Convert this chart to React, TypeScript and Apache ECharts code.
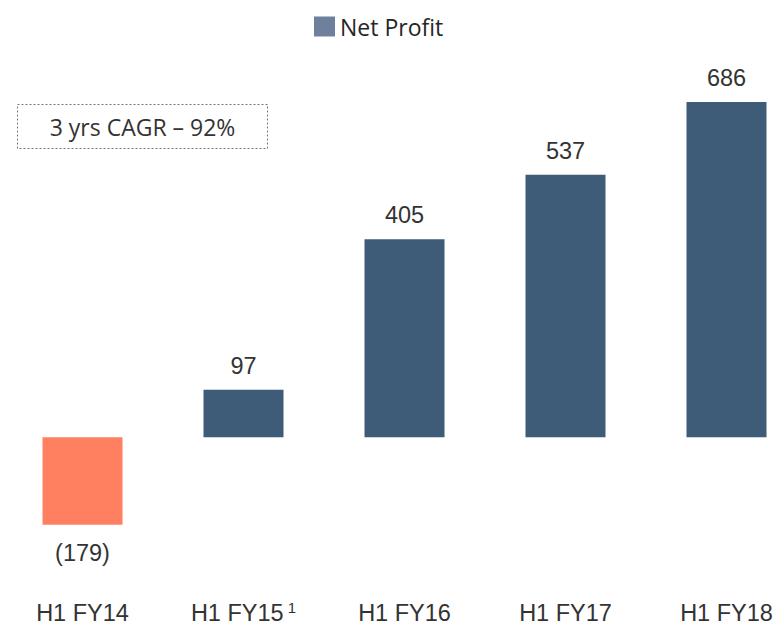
import React, { useEffect, useRef } from "react";
import * as echarts from "echarts";

const categories = ["H1 FY14", "H1 FY15", "H1 FY16", "H1 FY17", "H1 FY18"];
const netProfit = [-179, 97, 405, 537, 686];
const footnoteCategory = "H1 FY15";
const footnoteMark = "1";
const cagrText = "3 yrs CAGR – 92%";

const BAR_COLOR = "#3E5C77";
const NEG_COLOR = "#FF8060";
const LEGEND_COLOR = "#6F809C";

export default function App() {
  const ref = useRef<HTMLDivElement>(null);
  useEffect(() => {
    if (!ref.current) return;
    const chart = echarts.init(ref.current, null, { renderer: "svg" });
    chart.setOption({
      animation: false,
      legend: {
        top: 10,
        left: 309,
        icon: "rect",
        itemWidth: 21,
        itemHeight: 20,
        itemGap: 11,
        textStyle: { fontFamily: "Open Sans", fontSize: 23, color: "#262626" },
        data: [{ name: "Net Profit", itemStyle: { color: LEGEND_COLOR } }],
      },
      grid: { left: 2, top: 95.1, width: 805, height: 442.2 },
      xAxis: {
        type: "category",
        data: categories,
        axisLine: { show: false, onZero: false },
        axisTick: { show: false },
        axisLabel: {
          interval: 0,
          margin: 61,
          color: "#333",
          fontFamily: "Liberation Sans",
          fontSize: 23.5,
          formatter: (v: string) =>
            v === footnoteCategory ? `{m|${v}}{sup| ${footnoteMark}}` : `{m|${v}}`,
          rich: {
            m: {
              fontSize: 23.5,
              fontFamily: "Liberation Sans",
              color: "#333",
              height: 34,
              verticalAlign: "bottom",
            },
            sup: {
              fontSize: 15,
              fontFamily: "Liberation Sans",
              color: "#333",
              verticalAlign: "bottom",
              padding: [0, 0, 15, 0],
            },
          },
        },
      },
      yAxis: {
        type: "value",
        min: -200,
        max: 700,
        show: false,
        splitLine: { show: false },
      },
      series: [
        {
          name: "Net Profit",
          type: "bar",
          barWidth: 80,
          data: netProfit.map((v) => ({
            value: v,
            itemStyle: { color: v < 0 ? NEG_COLOR : BAR_COLOR },
            label: { position: v < 0 ? "bottom" : "top", distance: v < 0 ? 16 : 12 },
          })),
          label: {
            show: true,
            color: "#333",
            fontFamily: "Liberation Sans",
            fontSize: 23.5,
            formatter: (p: any) => (p.value < 0 ? `(${Math.abs(p.value)})` : `${p.value}`),
          },
        },
      ],
      graphic: [
        {
          type: "group",
          left: 17,
          top: 104,
          children: [
            {
              type: "rect",
              shape: { x: 0, y: 0, width: 250, height: 44 },
              style: { fill: "#fff", stroke: "#777", lineWidth: 1, lineDash: [2, 2] },
            },
            {
              type: "text",
              x: 125,
              y: 22,
              style: {
                text: cagrText,
                fontFamily: "Open Sans",
                fontSize: 23,
                fill: "#333",
                align: "center",
                verticalAlign: "middle",
              },
            },
          ],
        },
      ],
    });
    return () => chart.dispose();
  }, []);
  return (
    <div style={{ width: 778, height: 625, position: "absolute", left: 0, top: 0, overflow: "hidden" }}>
      <div ref={ref} style={{ width: 810, height: 625 }} />
    </div>
  );
}
